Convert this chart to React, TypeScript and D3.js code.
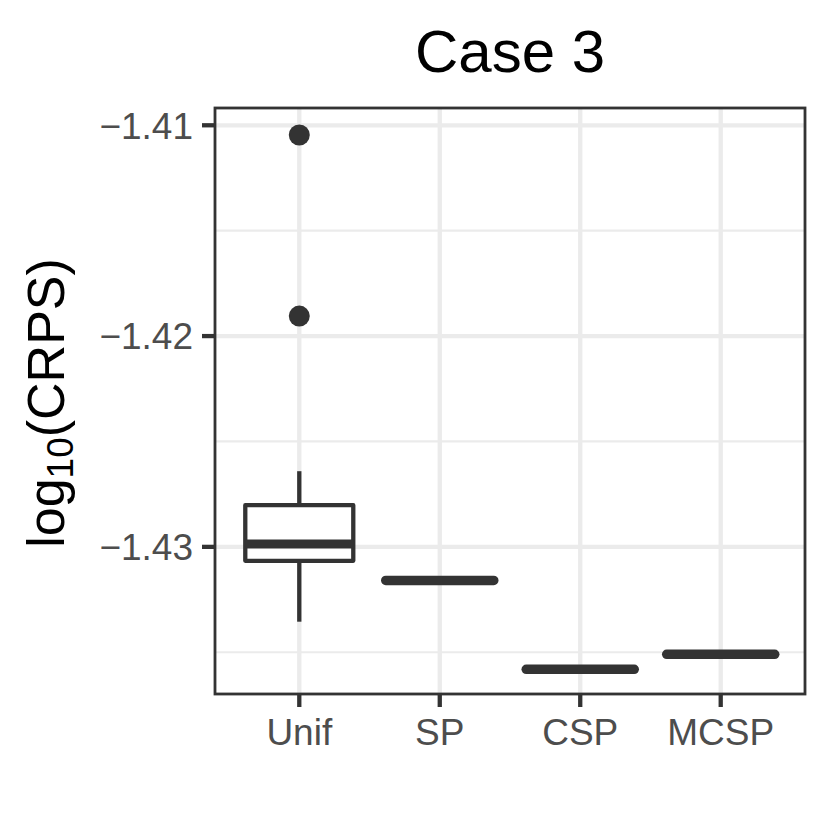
import React from "react";
import * as d3 from "d3";

const categories = ["Unif", "SP", "CSP", "MCSP"];
// box stats: [lowerWhisker, q1, median, q3, upperWhisker]
const boxStats: number[][] = [
  [-1.43355, -1.43066, -1.42986, -1.42802, -1.42641],
  [-1.43159, -1.43159, -1.43159, -1.43159, -1.43159],
  [-1.43581, -1.43581, -1.43581, -1.43581, -1.43581],
  [-1.4351, -1.4351, -1.4351, -1.4351, -1.4351],
];
const outlierCats = ["Unif", "Unif"];
const outlierVals = [-1.41046, -1.41905];
const yTicks = [-1.41, -1.42, -1.43];
const yMinor = [-1.415, -1.425, -1.435];

const W = 830, H = 840;
const L = 215, R = 805, T = 108, B = 694;
const FONT = "'Liberation Sans', Arial, Helvetica, sans-serif";

export default function App() {
  const step = (R - L) / (categories.length - 1 + 1.2);
  const x = d3
    .scalePoint<string>()
    .domain(categories)
    .range([L + 0.6 * step, R - 0.6 * step]);
  const cx = (c: string) => x(c) as number;
  const y = d3.scaleLinear().domain([-1.43698, -1.40918]).range([B, T]);
  const boxW = 108;
  const fmt = (v: number) => "\u2212" + Math.abs(v).toFixed(2);
  return (
    <svg width={W} height={H} style={{ display: "block", position: "absolute", left: 0, top: 0 }}>
      <rect x={0} y={0} width={W} height={H} fill="#fff" />
      {/* grid */}
      {yMinor.map((v) => (
        <line key={"mi" + v} x1={L} x2={R} y1={y(v)} y2={y(v)} stroke="#EBEBEB" strokeWidth={2.2} />
      ))}
      {yTicks.map((v) => (
        <line key={"ma" + v} x1={L} x2={R} y1={y(v)} y2={y(v)} stroke="#EBEBEB" strokeWidth={4.3} />
      ))}
      {categories.map((c) => (
        <line key={"vg" + c} x1={cx(c)} x2={cx(c)} y1={T} y2={B} stroke="#EBEBEB" strokeWidth={4.3} />
      ))}
      {/* boxes */}
      {categories.map((c, i) => {
        const [lw, q1, med, q3, uw] = boxStats[i];
        const xc = cx(c);
        const h = y(q1) - y(q3);
        return (
          <g key={"b" + c} stroke="#333333" fill="none">
            <line x1={xc} x2={xc} y1={y(q3)} y2={y(uw)} strokeWidth={4.3} />
            <line x1={xc} x2={xc} y1={y(q1)} y2={y(lw)} strokeWidth={4.3} />
            {h > 0 ? (
              <rect x={xc - boxW / 2} y={y(q3)} width={boxW} height={h} fill="#fff" strokeWidth={4.3} strokeLinejoin="round" />
            ) : null}
            <line
              x1={xc - boxW / 2}
              x2={xc + boxW / 2}
              y1={y(med)}
              y2={y(med)}
              strokeWidth={h > 0 ? 9 : 9.5}
              strokeLinecap={h > 0 ? "butt" : "round"}
            />
          </g>
        );
      })}
      {outlierVals.map((v, i) => (
        <circle key={"o" + i} cx={cx(outlierCats[i])} cy={y(v)} r={10.5} fill="#333333" />
      ))}
      {/* panel border */}
      <rect x={L} y={T} width={R - L} height={B - T} fill="none" stroke="#333333" strokeWidth={2.8} />
      {/* y axis */}
      {yTicks.map((v) => (
        <g key={"yt" + v}>
          <line x1={L - 13} x2={L} y1={y(v)} y2={y(v)} stroke="#333333" strokeWidth={4.3} />
          <text x={L - 22} y={y(v)} dy="0.36em" textAnchor="end" fontFamily={FONT} fontSize={37} fill="#4D4D4D">
            {fmt(v)}
          </text>
        </g>
      ))}
      {/* x axis */}
      {categories.map((c) => (
        <g key={"xt" + c}>
          <line x1={cx(c)} x2={cx(c)} y1={B} y2={B + 13} stroke="#333333" strokeWidth={4.3} />
          <text x={cx(c)} y={745} textAnchor="middle" fontFamily={FONT} fontSize={37} fill="#4D4D4D">
            {c}
          </text>
        </g>
      ))}
      {/* title */}
      <text x={(L + R) / 2} y={72} textAnchor="middle" fontFamily={FONT} fontSize={60} fill="#000">
        Case 3
      </text>
      {/* y label */}
      <text transform={`translate(${64},${(T + B) / 2 + 2}) rotate(-90)`} textAnchor="middle" fontFamily={FONT} fontSize={52} fill="#000">
        log<tspan fontSize={37} dy={9}>10</tspan><tspan dy={-9}>(CRPS)</tspan>
      </text>
    </svg>
  );
}
